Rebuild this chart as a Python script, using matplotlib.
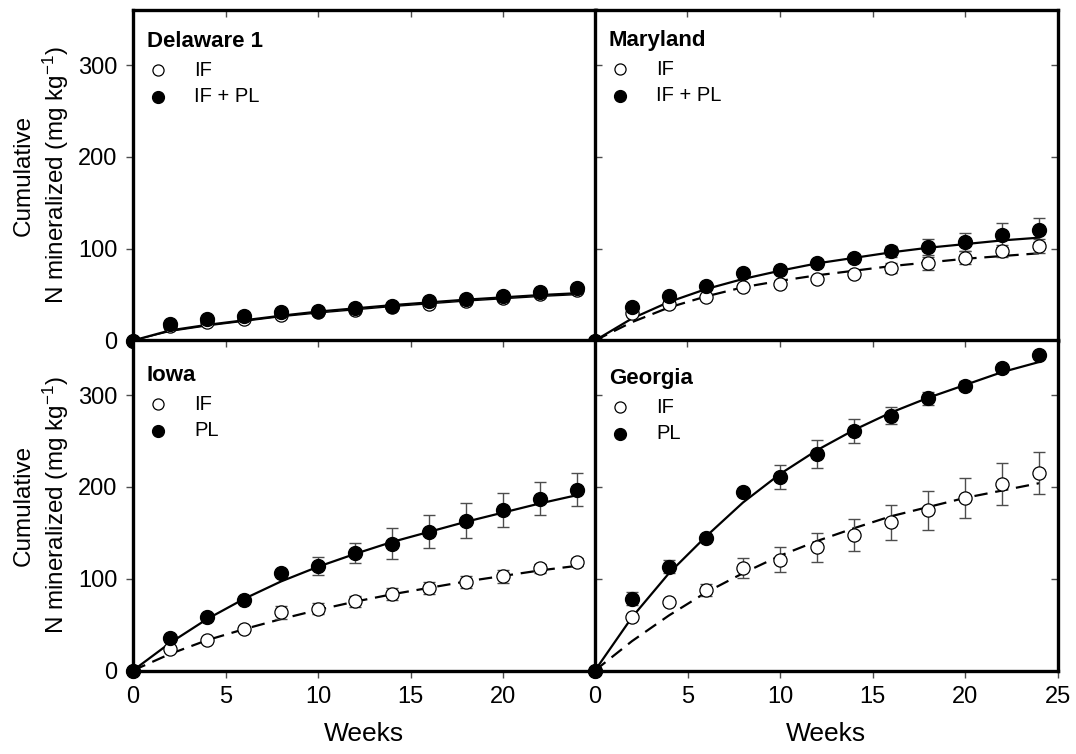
import matplotlib
matplotlib.use("Agg")
import matplotlib.pyplot as plt

plt.rcParams['font.family'] = ['Liberation Sans', 'DejaVu Sans']
plt.rcParams['mathtext.fontset'] = 'custom'
plt.rcParams['mathtext.rm'] = 'Liberation Sans'
plt.rcParams['mathtext.default'] = 'regular'

# weeks of incubation
weeks = [0, 2, 4, 6, 8, 10, 12, 14, 16, 18, 20, 22, 24]

# Delaware 1
de_if = [0, 16, 20.5, 23.5, 28, 31, 33.5, 36.5, 40, 43.5, 46.5, 51, 55]
de_pl = [0, 17.5, 23, 26.5, 31, 32.5, 35.5, 38, 42.5, 45, 48.5, 53, 57]
de_if_err = [0] * 13
de_pl_err = [0] * 13
de_if_fit = [0, 10, 16, 21, 26, 30, 33.5, 37, 40, 43, 45.5, 48, 50]
de_pl_fit = [0, 11, 17, 22, 27, 31.5, 35, 38.5, 41.5, 44.5, 47, 49.5, 51.5]

# Maryland
md_if = [0, 30, 40, 47, 58, 61.5, 67, 72.5, 79, 84, 90, 97.5, 103]
md_pl = [0, 36.5, 49, 59, 73.5, 77, 84.5, 90, 97, 102, 107.5, 115, 120.5]
md_if_err = [0, 0, 0, 0, 0, 0, 0, 3, 5, 7, 7, 7, 8]
md_pl_err = [0, 0, 0, 0, 0, 0, 0, 4, 6, 9, 10, 13, 13]
md_if_fit = [0, 20, 36, 48, 58, 65, 71, 76, 81, 85, 89, 92, 95]
md_pl_fit = [0, 24, 42, 56, 67, 76, 84, 90, 96, 101, 105, 109, 112]

# Iowa
ia_if = [0, 23.5, 33.5, 45, 63.5, 67.5, 75.5, 83.5, 90, 96.5, 102.5, 111.5, 118]
ia_pl = [0, 35.5, 58, 77, 106, 113.5, 128, 138, 151, 163, 174.5, 187, 197]
ia_if_err = [0, 0, 0, 0, 7, 6, 6, 6.5, 6.5, 6.5, 7.5, 5, 4]
ia_pl_err = [0, 0, 0, 0, 0, 10, 11, 17, 18, 19, 18.5, 18, 18]
ia_if_fit = [0, 18, 33, 45, 56, 66, 75, 83, 90, 97, 103, 109, 114]
ia_pl_fit = [0, 30, 56, 78, 97, 113, 127, 140, 151, 162, 172, 182, 191]

# Georgia
ga_if = [0, 58, 74.5, 88, 112, 120.5, 134, 147.5, 161.5, 174.5, 188, 203, 215.5]
ga_pl = [0, 78, 113, 144.5, 194.5, 211, 236, 261, 277.5, 296.5, 310, 329, 344]
ga_if_err = [0, 0, 0, 6.5, 11, 13.5, 15.5, 17, 19, 21, 22, 23, 23]
ga_pl_err = [0, 7, 7, 0, 0, 13, 15, 13, 9, 7, 5, 0, 0]
ga_if_fit = [0, 32, 60, 85, 106, 125, 141, 155, 168, 178, 188, 196, 204]
ga_pl_fit = [0, 58, 106, 146, 183, 214, 240, 262, 281, 297, 311, 325, 336]

panels = [
    ("Delaware 1", "IF + PL", de_if, de_pl, de_if_err, de_pl_err, de_if_fit, de_pl_fit),
    ("Maryland", "IF + PL", md_if, md_pl, md_if_err, md_pl_err, md_if_fit, md_pl_fit),
    ("Iowa", "PL", ia_if, ia_pl, ia_if_err, ia_pl_err, ia_if_fit, ia_pl_fit),
    ("Georgia", "PL", ga_if, ga_pl, ga_if_err, ga_pl_err, ga_if_fit, ga_pl_fit),
]

W, H = 1076, 754
fig = plt.figure(figsize=(W / 100, H / 100), dpi=100)
lefts = [133, 595, 133, 595]
tops = [10, 10, 340, 340]
pw, ph = 462.5, 330.5
legend_top = [0.905, 0.908, 0.893, 0.884]

for i, (name, pl_label, y_if, y_pl, e_if, e_pl, f_if, f_pl) in enumerate(panels):
    ax = fig.add_axes([lefts[i] / W, 1 - (tops[i] + ph) / H, pw / W, ph / H])
    ax.set_xlim(0, 25)
    ax.set_ylim(0, 360)

    # fitted curves
    if i == 0:
        ax.plot(weeks, f_if, color='black', lw=1.0, zorder=2)
    else:
        ax.plot(weeks, f_if, color='black', lw=1.6, ls=(0, (6, 3.5)), zorder=2)
    ax.plot(weeks, f_pl, color='black', lw=1.6, zorder=2)

    # error bars and points
    ax.errorbar(weeks, y_if, yerr=e_if, fmt='none', ecolor='0.3', elinewidth=1,
                capsize=4, capthick=1, zorder=3)
    ax.errorbar(weeks, y_pl, yerr=e_pl, fmt='none', ecolor='0.3', elinewidth=1,
                capsize=4, capthick=1, zorder=3)
    ax.plot(weeks, y_if, 'o', ms=9.5, mfc='white', mec='black', mew=0.9,
            clip_on=False, zorder=4)
    ax.plot(weeks, y_pl, 'o', ms=10, mfc='black', mec='black',
            clip_on=False, zorder=5)

    # legend block
    t0 = legend_top[i]
    ax.text(0.030, t0, name, transform=ax.transAxes, fontsize=16,
            fontweight='bold', va='center', ha='left')
    ax.plot([0.054], [t0 - 0.087], 'o', ms=8, mfc='white', mec='black', mew=0.9,
            transform=ax.transAxes)
    ax.plot([0.054], [t0 - 0.167], 'o', ms=8.5, mfc='black', mec='black',
            transform=ax.transAxes)
    ax.text(0.132, t0 - 0.087, "IF", transform=ax.transAxes, fontsize=14.5,
            va='center', ha='left')
    ax.text(0.132, t0 - 0.167, pl_label, transform=ax.transAxes, fontsize=14.5,
            va='center', ha='left')

    for s in ax.spines.values():
        s.set_linewidth(2.4)

    ax.set_xticks([0, 5, 10, 15, 20, 25])
    ax.set_yticks([0, 100, 200, 300])
    ax.tick_params(axis='both', which='major', length=5, width=1, color='0.3',
                   labelsize=17, pad=6)
    ax.tick_params(axis='x', direction='out')
    top = ax.secondary_xaxis('top')
    top.set_xticks([0, 5, 10, 15, 20, 25])
    top.tick_params(direction='in', length=5, width=1, color='0.3', labeltop=False)
    top.spines['top'].set_visible(False)

    if i % 2 == 0:
        ax.tick_params(axis='y', direction='out')
        ax.set_ylabel("Cumulative\nN mineralized (mg kg$^{-1}$)", fontsize=17.5,
                      linespacing=1.25)
        ax.yaxis.set_label_coords(-0.135, 0.5)
    else:
        ax.tick_params(axis='y', direction='in', right=True, labelleft=False)

    if i < 2:
        ax.tick_params(axis='x', labelbottom=False)
    else:
        ax.set_xlabel("Weeks", fontsize=19, labelpad=10)
        if i == 2:
            ax.set_xticklabels(['0', '5', '10', '15', '20', ''])

fig.savefig("out.png", dpi=100)
